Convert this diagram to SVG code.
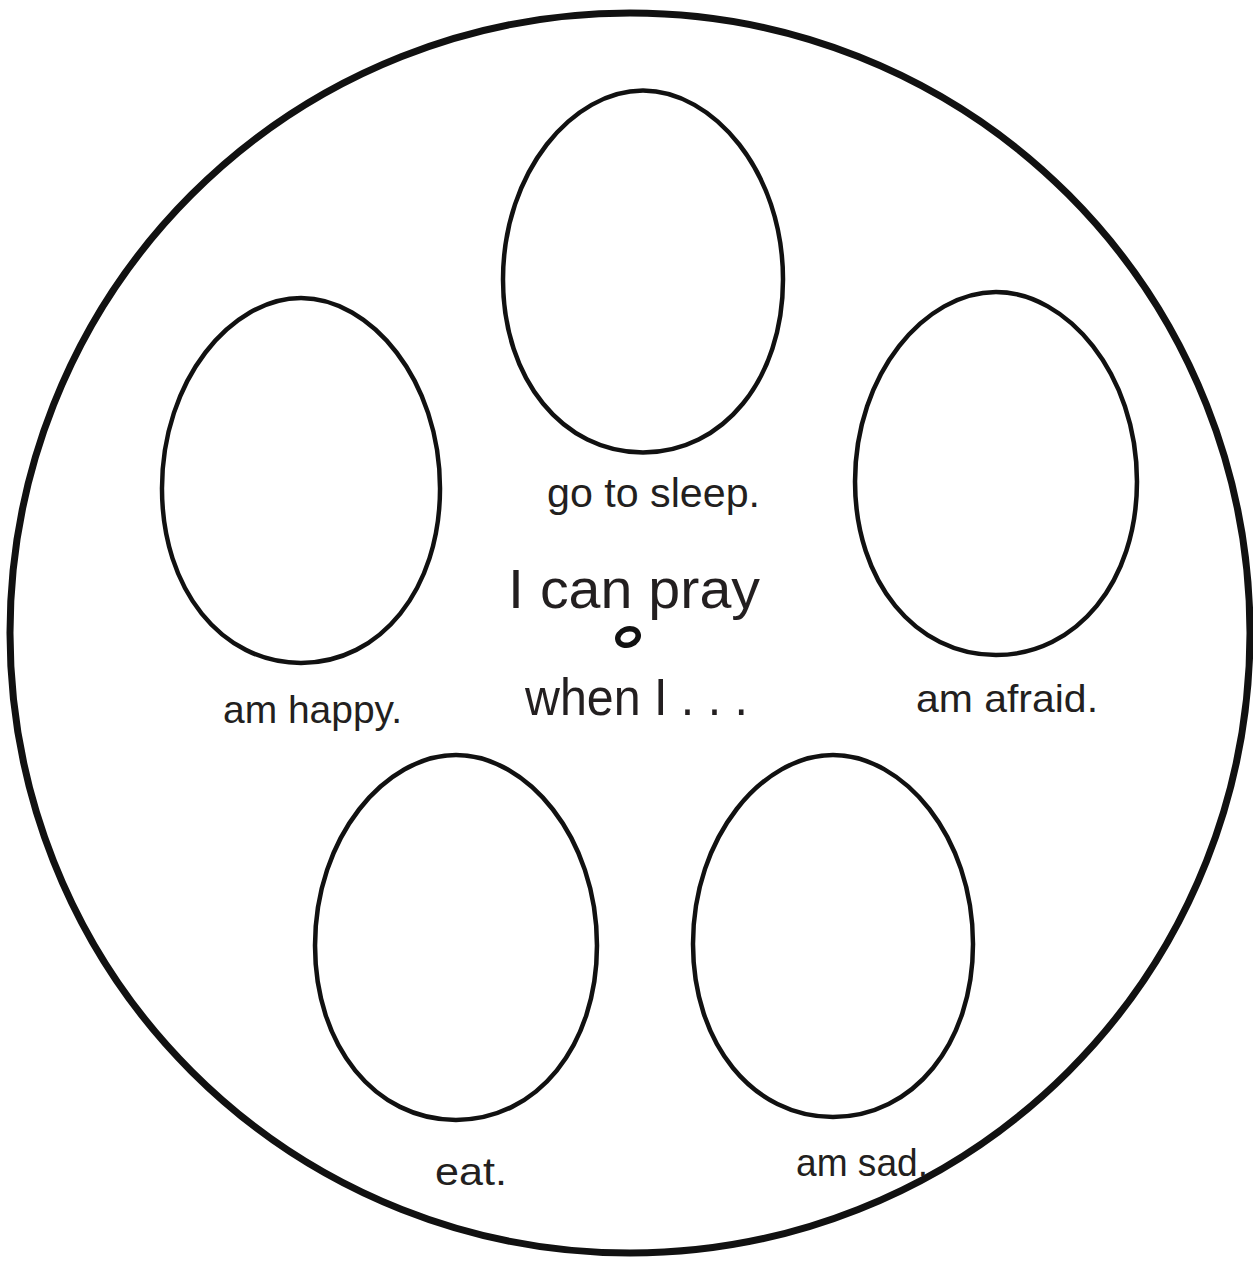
<svg xmlns="http://www.w3.org/2000/svg" width="1253" height="1264" viewBox="0 0 1253 1264">
  <style>
    .egg { fill: none; stroke: #111; stroke-width: 4.5; }
    .lbl { font-family: "Liberation Sans", Arial, sans-serif; fill: #231f20; }
  </style>
  <defs>
    <path id="eggShape" d="M 0,-181 C 70,-181 140,-100 140,8 C 140,108 80,181 0,181 C -80,181 -140,108 -140,8 C -140,-100 -70,-181 0,-181 Z"/>
  </defs>
  <rect width="1253" height="1264" fill="#fff"/>
  <g id="plate">
    <circle cx="630" cy="633" r="620" fill="none" stroke="#111" stroke-width="7"/>
  </g>
  <g id="connectors"/>
  <g id="node-sleep">
    <use href="#eggShape" class="egg" transform="translate(643,271.5)"/>
    <text class="lbl" x="547" y="507" font-size="41" textLength="213" lengthAdjust="spacingAndGlyphs">go to sleep.</text>
  </g>
  <g id="node-happy">
    <use href="#eggShape" class="egg" transform="translate(301,480.5) scale(0.993,1.008)"/>
    <text class="lbl" x="223" y="723" font-size="39" textLength="179" lengthAdjust="spacingAndGlyphs">am happy.</text>
  </g>
  <g id="node-afraid">
    <use href="#eggShape" class="egg" transform="translate(996,473.5) scale(1.007,1.003)"/>
    <text class="lbl" x="916" y="712" font-size="39" textLength="182" lengthAdjust="spacingAndGlyphs">am afraid.</text>
  </g>
  <g id="node-eat">
    <use href="#eggShape" class="egg" transform="translate(456,937.5) scale(1.007,1.008)"/>
    <text class="lbl" x="435" y="1185" font-size="39" textLength="72" lengthAdjust="spacingAndGlyphs">eat.</text>
  </g>
  <g id="node-sad">
    <use href="#eggShape" class="egg" transform="translate(833,936)"/>
    <text class="lbl" x="796" y="1176" font-size="39" textLength="132" lengthAdjust="spacingAndGlyphs">am sad.</text>
  </g>
  <g id="center">
    <text class="lbl" x="508" y="608" font-size="56" textLength="252" lengthAdjust="spacingAndGlyphs">I can pray</text>
    <ellipse cx="628" cy="637" rx="10.5" ry="8" transform="rotate(-20 628 637)" fill="none" stroke="#111" stroke-width="5.5"/>
    <text class="lbl" x="525" y="715" font-size="52" textLength="223" lengthAdjust="spacingAndGlyphs">when I . . .</text>
  </g>
</svg>
